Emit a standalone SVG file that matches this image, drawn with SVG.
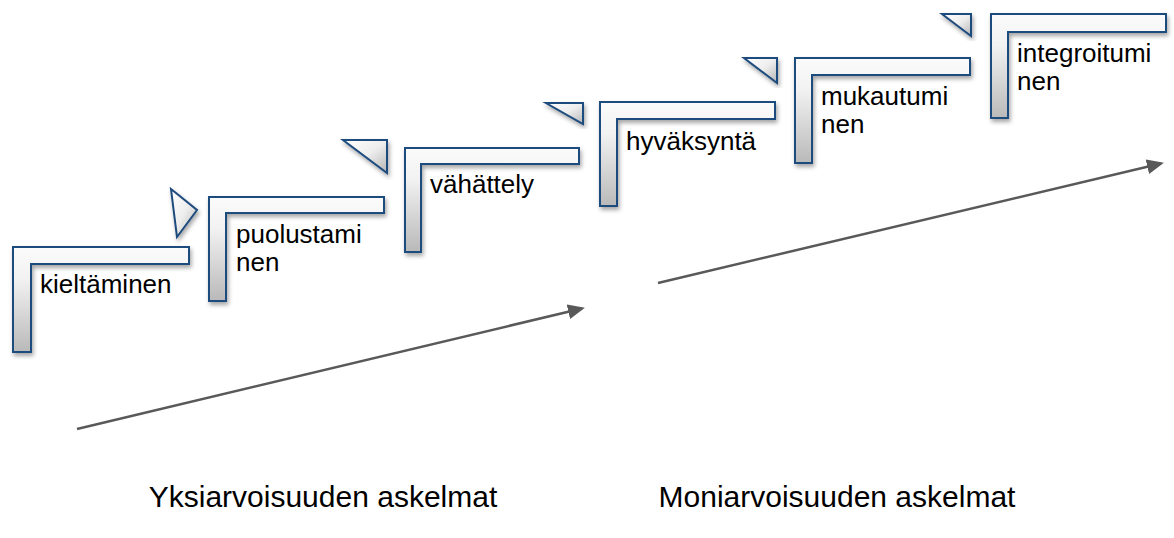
<svg xmlns="http://www.w3.org/2000/svg" width="1174" height="538" viewBox="0 0 1174 538">
<style>
.step{fill:url(#lg);stroke:#1f4b7d;stroke-width:2;filter:url(#sh)}
.tri{fill:url(#tg);stroke:#1f4b7d;stroke-width:2;filter:url(#sh)}
.lbl{font-family:"Liberation Sans",Arial,sans-serif;font-size:26px;fill:#000}
.cap{font-family:"Liberation Sans",Arial,sans-serif;font-size:30px;fill:#000;text-anchor:middle}
.arr{stroke:#595959;stroke-width:2.5;fill:none;marker-end:url(#ah)}
</style>
<defs>
<linearGradient id="lg" x1="0" y1="0" x2="0" y2="1">
<stop offset="0" stop-color="#fbfbfb"/>
<stop offset="0.3" stop-color="#f2f2f2"/>
<stop offset="1" stop-color="#b9b9b9"/>
</linearGradient>
<linearGradient id="tg" x1="0" y1="0" x2="1" y2="1">
<stop offset="0" stop-color="#ffffff"/>
<stop offset="0.5" stop-color="#eeeeee"/>
<stop offset="1" stop-color="#b5b5b5"/>
</linearGradient>
<filter id="sh" x="-20%" y="-20%" width="140%" height="140%">
<feDropShadow dx="1.5" dy="3" stdDeviation="2" flood-color="#000" flood-opacity="0.35"/>
</filter>
<marker id="ah" markerUnits="userSpaceOnUse" markerWidth="19" markerHeight="16" refX="14" refY="7.5" orient="auto">
<path d="M0,0 L17,7.5 L0,15 z" fill="#595959"/>
</marker>
</defs>
<g id="step1"><path class="step" d="M13,247 H189 V264 H31 V352 H13 Z"/><text class="lbl" x="40" y="293">kieltäminen</text></g>
<g id="tri1"><polygon class="tri" points="171,189 197,210 177,237"/></g>
<g id="step2"><path class="step" d="M209,197 H384 V213 H226 V301 H209 Z"/><text class="lbl" x="236" y="243">puolustami</text><text class="lbl" x="236" y="271">nen</text></g>
<g id="tri2"><polygon class="tri" points="343,140 387,140 387,173"/></g>
<g id="step3"><path class="step" d="M405,148 H579 V164 H421 V252 H405 Z"/><text class="lbl" x="430" y="193">vähättely</text></g>
<g id="tri3"><polygon class="tri" points="546,103 583,103 583,124"/></g>
<g id="step4"><path class="step" d="M600,102 H775 V119 H617 V206 H600 Z"/><text class="lbl" x="626" y="150">hyväksyntä</text></g>
<g id="tri4"><polygon class="tri" points="744,58 777,58 777,83"/></g>
<g id="step5"><path class="step" d="M795,58 H970 V75 H812 V163 H795 Z"/><text class="lbl" x="821" y="105">mukautumi</text><text class="lbl" x="821" y="133">nen</text></g>
<g id="tri5"><polygon class="tri" points="942,14 971,14 971,36"/></g>
<g id="step6"><path class="step" d="M991,14 H1166 V32 H1008 V118 H991 Z"/><text class="lbl" x="1017" y="62">integroitumi</text><text class="lbl" x="1017" y="90">nen</text></g>
<g id="connectors">
<line class="arr" x1="77" y1="429" x2="582" y2="308.5"/>
<line class="arr" x1="658" y1="283" x2="1161" y2="163.5"/>
</g>
<g id="captions">
<text class="cap" x="323" y="507">Yksiarvoisuuden askelmat</text>
<text class="cap" x="837" y="507">Moniarvoisuuden askelmat</text>
</g>
</svg>
